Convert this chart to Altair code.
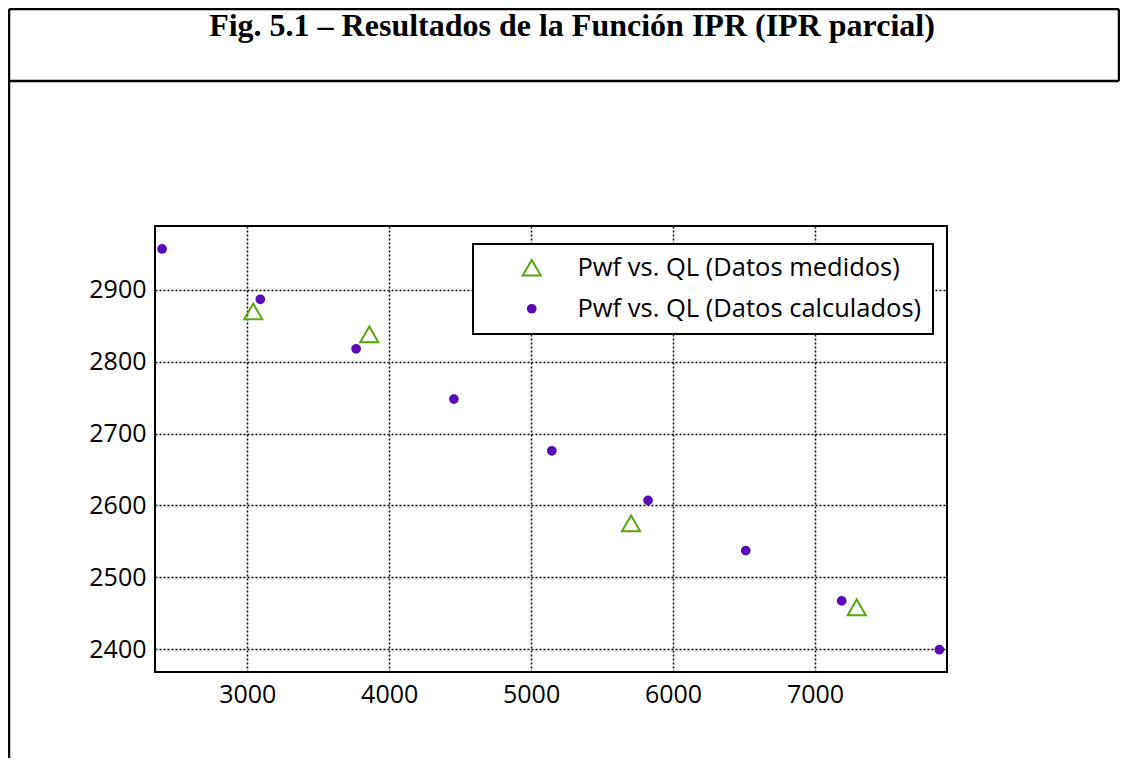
import altair as alt
import pandas as pd

# --- data ---
calc_q = [2400, 3092, 3767, 4456, 5146, 5824, 6512, 7188, 7876]
calc_p = [2957, 2887, 2818, 2748, 2676, 2607, 2537, 2467, 2399]
meas_q = [3042, 3860, 5704, 7294]
meas_p = [2870, 2838, 2575, 2458]

series_names = ["Pwf vs. QL (Datos medidos)", "Pwf vs. QL (Datos calculados)"]
x_ticks = [3000, 4000, 5000, 6000, 7000]
y_ticks = [2400, 2500, 2600, 2700, 2800, 2900]
title_text = "Fig. 5.1 – Resultados de la Función IPR (IPR parcial)"

GREEN = "#56A80C"
PURPLE = "#5A0BB4"

rows = [{"QL": q, "Pwf": p, "serie": series_names[0]} for q, p in zip(meas_q, meas_p)]
rows += [{"QL": q, "Pwf": p, "serie": series_names[1]} for q, p in zip(calc_q, calc_p)]
df = pd.DataFrame(rows)
title_df = pd.DataFrame({"t": [title_text]})

W, H = 792, 446

points = alt.Chart(df).mark_point(filled=False, strokeWidth=2, opacity=1).encode(
    x=alt.X("QL:Q", scale=alt.Scale(domain=[2350, 7930], nice=False, zero=False),
            axis=alt.Axis(values=x_ticks, title=None, format="d")),
    y=alt.Y("Pwf:Q", scale=alt.Scale(domain=[2368, 2989], nice=False, zero=False),
            axis=alt.Axis(values=y_ticks, title=None, format="d")),
    stroke=alt.Stroke("serie:N", scale=alt.Scale(domain=series_names, range=[GREEN, PURPLE]),
                      legend=alt.Legend(title=None)),
    fill=alt.Fill("serie:N", scale=alt.Scale(domain=series_names, range=["transparent", PURPLE]),
                  legend=alt.Legend(title=None)),
    shape=alt.Shape("serie:N", scale=alt.Scale(domain=series_names, range=["triangle-up", "circle"]),
                    legend=alt.Legend(title=None)),
    size=alt.Size("serie:N", scale=alt.Scale(domain=series_names, range=[330, 60]),
                  legend=alt.Legend(title=None)),
)

def rule(x1, x2, y1, y2):
    return alt.Chart(title_df).mark_rule(color="black", strokeWidth=2.5).encode(
        x=alt.value(x1), x2=alt.value(x2), y=alt.value(y1), y2=alt.value(y2))

frame = (
    rule(-146, 964, -217, -217)      # top border
    + rule(-146, -146, -217, 532)    # left border
    + rule(-146, 964, -145, -145)    # line under title
    + rule(964, 964, -217, -145)     # right border of title cell
)

title = alt.Chart(title_df).mark_text(
    font="Liberation Serif", fontSize=32, fontWeight="bold", color="black",
    align="center", baseline="alphabetic"
).encode(text="t:N", x=alt.value(417), y=alt.value(-190))

chart = alt.layer(frame, title, points).properties(
    width=W, height=H,
    autosize=alt.AutoSizeParams(type="none"),
    padding={"left": 147, "top": 218, "right": 173, "bottom": 86},
).configure_view(
    stroke="black", strokeWidth=2
).configure_axis(
    domain=False, ticks=False, tickSize=0,
    grid=True, gridColor="black", gridDash=[2, 2], gridWidth=1.5, gridOpacity=1,
    labelFont="Open Sans", labelFontSize=25, labelColor="black",
).configure_axisX(
    labelPadding=10
).configure_axisY(
    labelPadding=9
).configure_legend(
    orient="none", legendX=318, legendY=18,
    strokeColor="black", strokeWidth=2, fillColor="white",
    padding=11, symbolOffset=35, labelOffset=33, rowPadding=14,
    labelFont="Open Sans", labelFontSize=25.5, labelColor="black", labelLimit=600,
    symbolStrokeWidth=2,
)

chart.save("out.html", embed_options={"renderer": "svg", "actions": False})
